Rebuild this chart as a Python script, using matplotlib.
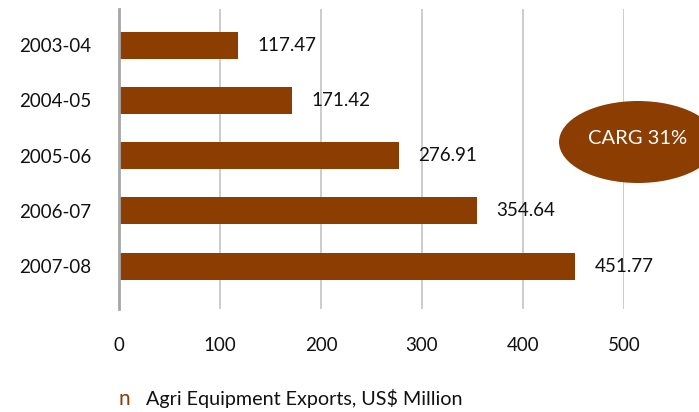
import matplotlib
matplotlib.use("Agg")
import matplotlib.pyplot as plt
from matplotlib.patches import Ellipse

categories = ["2003-04", "2004-05", "2005-06", "2006-07", "2007-08"]
values = [117.47, 171.42, 276.91, 354.64, 451.77]
value_labels = ["117.47", "171.42", "276.91", "354.64", "451.77"]
xticks = [0, 100, 200, 300, 400, 500]
legend_label = "Agri Equipment Exports, US$ Million"
badge_text = "CARG 31%"

BROWN = "#8B3D02"
plt.rcParams["font.family"] = ["Lato", "DejaVu Sans"]

fig = plt.figure(figsize=(6.99, 4.12), dpi=100)
ax = fig.add_axes([119/699, 1-309/412, (624-119)/699, 300/412])

ypos = list(range(len(categories)))
ax.barh(ypos, values, height=0.49, color=BROWN, zorder=3)
ax.set_ylim(4.775, -0.655)
ax.set_xlim(0, 500)

for y, v, lab in zip(ypos, values, value_labels):
    ax.annotate(lab, (v, y), xytext=(14, 0), textcoords="offset points",
                va="center", ha="left", fontsize=13.5, color="#111111")

ax.set_yticks(ypos)
ax.set_yticklabels(categories, fontsize=13.5, color="#111111")
ax.set_xticks(xticks)
ax.set_xticklabels([str(t) for t in xticks], fontsize=13.5, color="#111111")
ax.tick_params(axis="both", length=0)
ax.tick_params(axis="x", pad=20)
ax.tick_params(axis="y", pad=20)
ax.xaxis.grid(True, color="#c4c4c4", linewidth=1.2, zorder=0)
ax.set_axisbelow(True)
for s in ["top", "right", "bottom"]:
    ax.spines[s].set_visible(False)
ax.spines["left"].set_color("#a6a6a6")
ax.spines["left"].set_linewidth(2)
ax.spines["left"].set_zorder(4)

# badge ellipse
ell = Ellipse((638/699, 1-142/412), 158/699, 82/412, transform=fig.transFigure,
              facecolor=BROWN, edgecolor="none", clip_on=False, zorder=5)
fig.patches.append(ell)
fig.text(638/699, 1-139/412, badge_text, ha="center", va="center",
         fontsize=14.5, color="white", zorder=6)

# legend
fig.text(118/699, 1-399/412, "n", ha="left", va="center", fontsize=15, color=BROWN)
fig.text(146/699, 1-399/412, legend_label, ha="left", va="center",
         fontsize=14.2, color="#111111")

fig.savefig("out.png", dpi=100)
